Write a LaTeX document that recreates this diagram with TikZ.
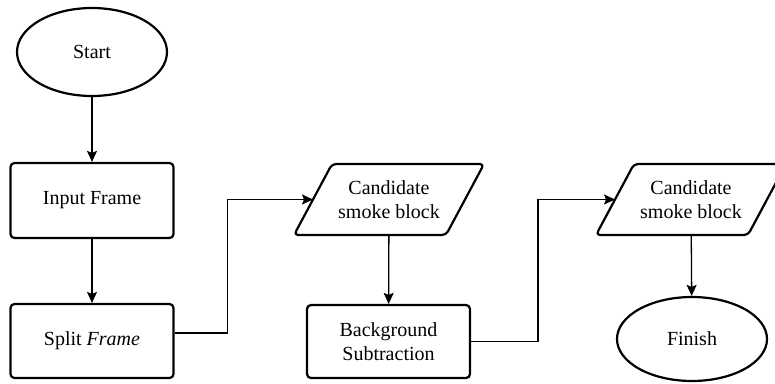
\documentclass[tikz,border=0pt]{standalone}
\usepackage{fontspec}
\setmainfont{Liberation Serif}
\usetikzlibrary{shapes.geometric,arrows.meta,calc}
\begin{document}
\begin{tikzpicture}[x=1pt,y=-1pt,
  every node/.style={font=\fontsize{20}{23.5}\selectfont, align=center, inner sep=0pt},
  termbox/.style={ellipse, draw, line width=2.2pt, minimum width=150pt, minimum height=88pt},
  procbox/.style={rectangle, draw, line width=2.2pt, rounded corners=4pt, minimum width=163pt, minimum height=74pt},
  iotext/.style={rectangle, minimum width=152pt, minimum height=71pt},
  ioline/.style={line width=2.2pt, rounded corners=4pt, line join=round},
  conn/.style={line width=1.3pt, -{Stealth[length=11pt,width=10pt,inset=2pt]}}
]
\useasboundingbox (0,0) rectangle (775,383);
\node[termbox] (start) at (92,52) {Start};
\node[procbox, minimum height=75pt] (input) at (92,200.5) {Input Frame};
\node[procbox] (split) at (92,341) {Split \textit{Frame}};
\node[iotext] (c1) at (389,199.5) {Candidate\\smoke block};
\draw[ioline] ($(c1)+(-57,-35.5)$) -- ($(c1)+(95,-35.5)$) -- ($(c1)+(57,35.5)$) -- ($(c1)+(-95,35.5)$) -- cycle;
\coordinate (c1w) at ($(c1)+(-76,0)$);
\node[procbox, minimum height=73pt] (bg) at (388.5,341.5) {Background\\Subtraction};
\node[iotext] (c2) at (691,199.5) {Candidate\\smoke block};
\draw[ioline] ($(c2)+(-57,-35.5)$) -- ($(c2)+(95,-35.5)$) -- ($(c2)+(57,35.5)$) -- ($(c2)+(-95,35.5)$) -- cycle;
\coordinate (c2w) at ($(c2)+(-76,0)$);
\node[termbox, minimum height=84pt] (finish) at (692,339) {Finish};
\draw[conn] (start) -- (input);
\draw[conn] (input) -- (split);
\draw[conn] ([yshift=8pt]split.east) -- ++(53pt,0) |- (c1w);
\draw[conn] (c1) -- (bg);
\draw[conn] (bg.east) -- ++(67pt,0) |- (c2w);
\draw[conn] (c2) -- (finish);
\end{tikzpicture}
\end{document}
